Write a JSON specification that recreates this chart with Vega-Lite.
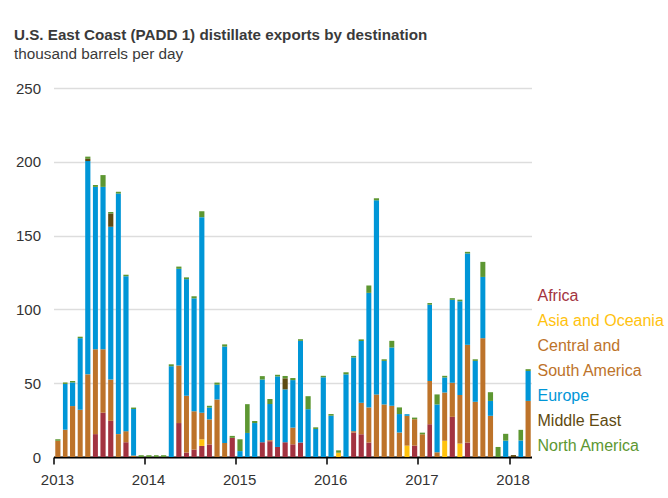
{
  "$schema": "https://vega.github.io/schema/vega-lite/v6.json",
  "width": 478,
  "height": 369,
  "autosize": {"type": "none"},
  "padding": {"left": 53.5, "top": 88, "right": 136.5, "bottom": 41},
  "background": "white",
  "title": {
    "text": "U.S. East Coast (PADD 1) distillate exports by destination",
    "subtitle": "thousand barrels per day",
    "anchor": "start",
    "frame": "group",
    "dx": -39.5,
    "offset": 19,
    "font": "Liberation Sans",
    "fontSize": 15.2,
    "fontWeight": "bold",
    "color": "#3a3a3a",
    "subtitleFont": "Liberation Sans",
    "subtitleFontSize": 15.3,
    "subtitleColor": "#3a3a3a",
    "subtitlePadding": 3.5
  },
  "data": {
    "values": [
      {"m": "2013-01-01", "Africa": 0, "Asia and Oceania": 0, "Central and South America": 11, "Europe": 0, "Middle East": 0, "North America": 1},
      {"m": "2013-02-01", "Africa": 0, "Asia and Oceania": 0, "Central and South America": 18.5, "Europe": 31, "Middle East": 0, "North America": 1},
      {"m": "2013-03-01", "Africa": 0, "Asia and Oceania": 0, "Central and South America": 34.5, "Europe": 16, "Middle East": 0, "North America": 1},
      {"m": "2013-04-01", "Africa": 0, "Asia and Oceania": 0, "Central and South America": 32, "Europe": 48.5, "Middle East": 0, "North America": 1},
      {"m": "2013-05-01", "Africa": 0, "Asia and Oceania": 0, "Central and South America": 56, "Europe": 144.5, "Middle East": 1.5, "North America": 1.5},
      {"m": "2013-06-01", "Africa": 15.5, "Asia and Oceania": 0, "Central and South America": 57.5, "Europe": 110, "Middle East": 0, "North America": 1.3},
      {"m": "2013-07-01", "Africa": 30, "Asia and Oceania": 0, "Central and South America": 43, "Europe": 110, "Middle East": 0, "North America": 8},
      {"m": "2013-08-01", "Africa": 24.5, "Asia and Oceania": 0, "Central and South America": 28, "Europe": 103.5, "Middle East": 9, "North America": 1},
      {"m": "2013-09-01", "Africa": 0, "Asia and Oceania": 0, "Central and South America": 15.5, "Europe": 163, "Middle East": 0, "North America": 1.2},
      {"m": "2013-10-01", "Africa": 10, "Asia and Oceania": 0, "Central and South America": 7.5, "Europe": 105, "Middle East": 0, "North America": 1},
      {"m": "2013-11-01", "Africa": 0, "Asia and Oceania": 0, "Central and South America": 1, "Europe": 31.5, "Middle East": 0, "North America": 1},
      {"m": "2013-12-01", "Africa": 0, "Asia and Oceania": 0, "Central and South America": 0, "Europe": 0, "Middle East": 0, "North America": 1.2},
      {"m": "2014-01-01", "Africa": 0, "Asia and Oceania": 0, "Central and South America": 0, "Europe": 0, "Middle East": 0, "North America": 1.2},
      {"m": "2014-02-01", "Africa": 0, "Asia and Oceania": 0, "Central and South America": 0, "Europe": 0, "Middle East": 0, "North America": 1.2},
      {"m": "2014-03-01", "Africa": 0, "Asia and Oceania": 0, "Central and South America": 0, "Europe": 0, "Middle East": 0, "North America": 1.2},
      {"m": "2014-04-01", "Africa": 0, "Asia and Oceania": 0, "Central and South America": 0, "Europe": 61.5, "Middle East": 0, "North America": 1.3},
      {"m": "2014-05-01", "Africa": 23, "Asia and Oceania": 0, "Central and South America": 39, "Europe": 65.5, "Middle East": 0, "North America": 1.5},
      {"m": "2014-06-01", "Africa": 3, "Asia and Oceania": 0, "Central and South America": 38.5, "Europe": 79, "Middle East": 0, "North America": 1.2},
      {"m": "2014-07-01", "Africa": 5, "Asia and Oceania": 0, "Central and South America": 26, "Europe": 76.5, "Middle East": 0, "North America": 1.4},
      {"m": "2014-08-01", "Africa": 7.5, "Asia and Oceania": 4.5, "Central and South America": 18, "Europe": 132.5, "Middle East": 0, "North America": 4},
      {"m": "2014-09-01", "Africa": 8.5, "Asia and Oceania": 0, "Central and South America": 17, "Europe": 8, "Middle East": 0, "North America": 1.2},
      {"m": "2014-10-01", "Africa": 0, "Asia and Oceania": 0, "Central and South America": 39, "Europe": 10, "Middle East": 0, "North America": 1.4},
      {"m": "2014-11-01", "Africa": 0, "Asia and Oceania": 0, "Central and South America": 9.5, "Europe": 65.3, "Middle East": 0, "North America": 1.5},
      {"m": "2014-12-01", "Africa": 13, "Asia and Oceania": 0, "Central and South America": 0, "Europe": 0, "Middle East": 0, "North America": 1.3},
      {"m": "2015-01-01", "Africa": 0, "Asia and Oceania": 0, "Central and South America": 0, "Europe": 4, "Middle East": 0, "North America": 8},
      {"m": "2015-02-01", "Africa": 0, "Asia and Oceania": 0, "Central and South America": 0, "Europe": 16.3, "Middle East": 0, "North America": 19.5},
      {"m": "2015-03-01", "Africa": 0, "Asia and Oceania": 0, "Central and South America": 0, "Europe": 23, "Middle East": 0, "North America": 1.4},
      {"m": "2015-04-01", "Africa": 10, "Asia and Oceania": 0, "Central and South America": 0, "Europe": 42.5, "Middle East": 0, "North America": 2.3},
      {"m": "2015-05-01", "Africa": 10.7, "Asia and Oceania": 0, "Central and South America": 0.7, "Europe": 24.5, "Middle East": 0, "North America": 3.4},
      {"m": "2015-06-01", "Africa": 6.8, "Asia and Oceania": 0, "Central and South America": 0, "Europe": 47.8, "Middle East": 0, "North America": 1.1},
      {"m": "2015-07-01", "Africa": 10, "Asia and Oceania": 0, "Central and South America": 0, "Europe": 35.8, "Middle East": 7.5, "North America": 1.6},
      {"m": "2015-08-01", "Africa": 8.6, "Asia and Oceania": 0, "Central and South America": 11.3, "Europe": 32.2, "Middle East": 0, "North America": 1.4},
      {"m": "2015-09-01", "Africa": 9.8, "Asia and Oceania": 0, "Central and South America": 0, "Europe": 68.9, "Middle East": 0, "North America": 1.1},
      {"m": "2015-10-01", "Africa": 0, "Asia and Oceania": 0, "Central and South America": 0, "Europe": 32.4, "Middle East": 0, "North America": 8.8},
      {"m": "2015-11-01", "Africa": 0, "Asia and Oceania": 0, "Central and South America": 0, "Europe": 19, "Middle East": 0, "North America": 1.1},
      {"m": "2015-12-01", "Africa": 0, "Asia and Oceania": 0, "Central and South America": 0, "Europe": 54, "Middle East": 0, "North America": 1},
      {"m": "2016-01-01", "Africa": 0, "Asia and Oceania": 0, "Central and South America": 0, "Europe": 28, "Middle East": 0, "North America": 1.1},
      {"m": "2016-02-01", "Africa": 0, "Asia and Oceania": 2.9, "Central and South America": 0, "Europe": 0, "Middle East": 0, "North America": 1.6},
      {"m": "2016-03-01", "Africa": 0, "Asia and Oceania": 0, "Central and South America": 0, "Europe": 56, "Middle East": 0, "North America": 1.4},
      {"m": "2016-04-01", "Africa": 16.6, "Asia and Oceania": 0, "Central and South America": 0.9, "Europe": 49.9, "Middle East": 0, "North America": 1.1},
      {"m": "2016-05-01", "Africa": 15.4, "Asia and Oceania": 0, "Central and South America": 21.3, "Europe": 41.9, "Middle East": 0, "North America": 1.1},
      {"m": "2016-06-01", "Africa": 9.8, "Asia and Oceania": 0, "Central and South America": 23.8, "Europe": 77.6, "Middle East": 0, "North America": 5},
      {"m": "2016-07-01", "Africa": 0, "Asia and Oceania": 0, "Central and South America": 42.4, "Europe": 131.5, "Middle East": 0, "North America": 1.4},
      {"m": "2016-08-01", "Africa": 0, "Asia and Oceania": 0, "Central and South America": 35.6, "Europe": 29.5, "Middle East": 0, "North America": 1.1},
      {"m": "2016-09-01", "Africa": 0, "Asia and Oceania": 0, "Central and South America": 34.7, "Europe": 39.5, "Middle East": 0, "North America": 4.5},
      {"m": "2016-10-01", "Africa": 0, "Asia and Oceania": 0, "Central and South America": 16.6, "Europe": 12.5, "Middle East": 0, "North America": 4.5},
      {"m": "2016-11-01", "Africa": 0, "Asia and Oceania": 7.7, "Central and South America": 20.2, "Europe": 1.1, "Middle East": 0, "North America": 0},
      {"m": "2016-12-01", "Africa": 7.7, "Asia and Oceania": 0, "Central and South America": 17.9, "Europe": 0, "Middle East": 0, "North America": 1.1},
      {"m": "2017-01-01", "Africa": 0, "Asia and Oceania": 0, "Central and South America": 15.4, "Europe": 0, "Middle East": 0, "North America": 1.1},
      {"m": "2017-02-01", "Africa": 22.2, "Asia and Oceania": 0, "Central and South America": 29.3, "Europe": 51.7, "Middle East": 0, "North America": 1.1},
      {"m": "2017-03-01", "Africa": 0, "Asia and Oceania": 0, "Central and South America": 3.2, "Europe": 32.4, "Middle East": 0, "North America": 6.8},
      {"m": "2017-04-01", "Africa": 0, "Asia and Oceania": 11, "Central and South America": 32.7, "Europe": 10.2, "Middle East": 0, "North America": 1.1},
      {"m": "2017-05-01", "Africa": 27.2, "Asia and Oceania": 0, "Central and South America": 23.1, "Europe": 56.2, "Middle East": 0, "North America": 1.1},
      {"m": "2017-06-01", "Africa": 0, "Asia and Oceania": 9.1, "Central and South America": 32.9, "Europe": 63.5, "Middle East": 0, "North America": 1.1},
      {"m": "2017-07-01", "Africa": 9.8, "Asia and Oceania": 0, "Central and South America": 66.2, "Europe": 61.9, "Middle East": 0, "North America": 1.1},
      {"m": "2017-08-01", "Africa": 0, "Asia and Oceania": 0, "Central and South America": 37.4, "Europe": 27.7, "Middle East": 0, "North America": 1.1},
      {"m": "2017-09-01", "Africa": 0, "Asia and Oceania": 0, "Central and South America": 80.5, "Europe": 41.5, "Middle East": 0, "North America": 10.2},
      {"m": "2017-10-01", "Africa": 0, "Asia and Oceania": 0, "Central and South America": 27.9, "Europe": 10.1, "Middle East": 0, "North America": 5.9},
      {"m": "2017-11-01", "Africa": 0, "Asia and Oceania": 0, "Central and South America": 0, "Europe": 0, "Middle East": 0, "North America": 6.8},
      {"m": "2017-12-01", "Africa": 0, "Asia and Oceania": 0, "Central and South America": 0, "Europe": 11.1, "Middle East": 0, "North America": 4.6},
      {"m": "2018-01-01", "Africa": 0, "Asia and Oceania": 0, "Central and South America": 0, "Europe": 0, "Middle East": 1.3, "North America": 0},
      {"m": "2018-02-01", "Africa": 0, "Asia and Oceania": 0, "Central and South America": 0, "Europe": 11.2, "Middle East": 0, "North America": 7.2},
      {"m": "2018-03-01", "Africa": 0, "Asia and Oceania": 0, "Central and South America": 38, "Europe": 20.3, "Middle East": 0, "North America": 1.2}
    ]
  },
  "transform": [
    {"fold": ["Africa", "Asia and Oceania", "Central and South America", "Europe", "Middle East", "North America"], "as": ["dest", "v"]}
  ],
  "mark": {"type": "bar", "width": {"band": 0.8}},
  "encoding": {
    "x": {
      "field": "m",
      "type": "temporal",
      "timeUnit": "utcyearmonth",
      "scale": {"type": "utc", "domain": [{"year": 2013, "month": 1, "date": 1, "utc": true}, {"year": 2018, "month": 4, "date": 1, "utc": true}]},
      "axis": {
        "title": null,
        "values": [
          {"year": 2013, "month": 1, "date": 1, "utc": true},
          {"year": 2014, "month": 1, "date": 1, "utc": true},
          {"year": 2015, "month": 1, "date": 1, "utc": true},
          {"year": 2016, "month": 1, "date": 1, "utc": true},
          {"year": 2017, "month": 1, "date": 1, "utc": true},
          {"year": 2018, "month": 1, "date": 1, "utc": true}
        ],
        "format": "%Y",
        "grid": false,
        "domainColor": "#000000",
        "domainWidth": 2,
        "tickColor": "#000000",
        "tickWidth": 1.5,
        "tickSize": 7,
        "labelFont": "Liberation Sans",
        "labelFontSize": 15,
        "labelColor": "#333333",
        "labelPadding": 8,
        "labelOffset": 3.5,
        "labelFlush": false
      }
    },
    "y": {
      "field": "v",
      "type": "quantitative",
      "stack": "zero",
      "scale": {"domain": [0, 250], "nice": false},
      "axis": {
        "title": null,
        "values": [0, 50, 100, 150, 200, 250],
        "domain": false,
        "ticks": false,
        "gridColor": "#dddddd",
        "gridWidth": 1.5,
        "labelFont": "Liberation Sans",
        "labelFontSize": 15,
        "labelColor": "#333333",
        "labelPadding": 13
      }
    },
    "color": {
      "field": "dest",
      "type": "nominal",
      "scale": {
        "domain": ["Africa", "Asia and Oceania", "Central and South America", "Europe", "Middle East", "North America"],
        "range": ["#a33340", "#ffc20e", "#bd732a", "#0096d7", "#5f4a11", "#5d9732"]
      },
      "legend": {
        "title": null,
        "orient": "none",
        "legendX": 468,
        "legendY": 199.5,
        "symbolSize": 0,
        "symbolOpacity": 0,
        "symbolStrokeWidth": 0,
        "labelOffset": 0,
        "labelFont": "Liberation Sans",
        "labelFontSize": 16,
        "labelLimit": 200,
        "rowPadding": 9,
        "labelExpr": "datum.label == 'Central and South America' ? ['Central and', 'South America'] : datum.label",
        "encode": {
          "labels": {"update": {"fill": {"signal": "scale('color', datum.value)"}, "lineHeight": {"value": 25}}}
        }
      }
    },
    "order": {"field": "dest", "sort": "ascending"}
  },
  "config": {
    "view": {"stroke": null}
  }
}
